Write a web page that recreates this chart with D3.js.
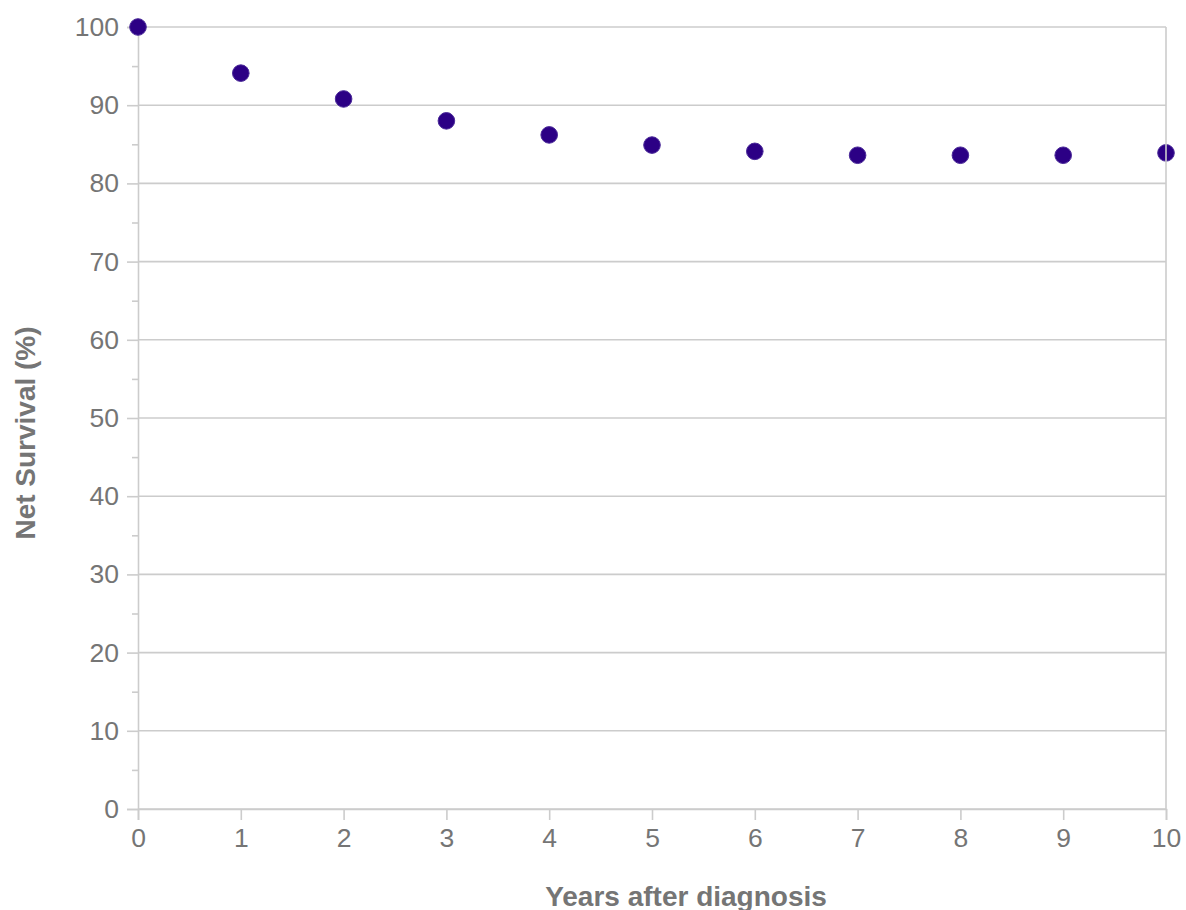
<!DOCTYPE html>
<html>
<head>
<meta charset="utf-8">
<script src="https://cdn.jsdelivr.net/npm/d3@7"></script>
<style>
  body { margin: 0; background: #fff; }
  svg text { font-family: "Liberation Sans", Arial, sans-serif; }
</style>
</head>
<body>
<svg id="chart" width="1186" height="910"></svg>
<script>
// data
var years = [0, 1, 2, 3, 4, 5, 6, 7, 8, 9, 10];
var survival = [100, 94.1, 90.8, 88.0, 86.2, 84.9, 84.1, 83.6, 83.6, 83.6, 83.9];
var yTicks = [0, 10, 20, 30, 40, 50, 60, 70, 80, 90, 100];
var yMinorTicks = [5, 15, 25, 35, 45, 55, 65, 75, 85, 95];

var svg = d3.select("#chart");
var gridColor = "#cccccc";
var textColor = "#757575";

var x = d3.scaleLinear().domain([0, 10]).range([138, 1166]);
var y = d3.scaleLinear().domain([0, 100]).range([809, 27]);

// horizontal gridlines
svg.append("g")
  .selectAll("line")
  .data(yTicks)
  .enter()
  .append("line")
  .attr("x1", x(0)).attr("x2", x(10))
  .attr("y1", d => y(d)).attr("y2", d => y(d))
  .attr("stroke", gridColor)
  .attr("stroke-width", 1.6);

// y axis
svg.append("g")
  .attr("transform", "translate(" + x(0) + ",0)")
  .call(d3.axisLeft(y).tickValues(yTicks).tickSize(11).tickPadding(8));

// minor ticks
svg.append("g")
  .attr("transform", "translate(" + x(0) + ",0)")
  .call(d3.axisLeft(y).tickValues(yMinorTicks).tickSize(6).tickFormat(""))
  .call(g => g.select(".domain").remove());

// x axis
svg.append("g")
  .attr("transform", "translate(0," + y(0) + ")")
  .call(d3.axisBottom(x).tickValues(years).tickSize(11).tickPadding(8).tickFormat(d3.format("d")));

svg.selectAll(".domain, .tick line")
  .attr("stroke", gridColor)
  .attr("stroke-width", 1.6);
svg.selectAll(".tick text")
  .attr("fill", textColor)
  .style("font-size", "26.5px");

// points
svg.append("g")
  .selectAll("circle")
  .data(years)
  .enter()
  .append("circle")
  .attr("cx", d => x(d))
  .attr("cy", (d, i) => y(survival[i]))
  .attr("r", 8.3)
  .attr("fill", "#2c0085")
  .attr("stroke", "#4b2a99")
  .attr("stroke-width", 1);

// right frame (drawn over the last point, like the reference)
svg.append("line")
  .attr("x1", x(10)).attr("x2", x(10))
  .attr("y1", y(100)).attr("y2", y(0))
  .attr("stroke", gridColor).attr("stroke-width", 1.6);

// axis titles
svg.append("text")
  .attr("x", 686)
  .attr("y", 906)
  .attr("text-anchor", "middle")
  .attr("fill", textColor)
  .style("font-size", "28px")
  .style("font-weight", "bold")
  .text("Years after diagnosis");

svg.append("text")
  .attr("transform", "translate(35,433) rotate(-90)")
  .attr("text-anchor", "middle")
  .attr("fill", textColor)
  .style("font-size", "28px")
  .style("font-weight", "bold")
  .text("Net Survival (%)");
</script>
</body>
</html>
